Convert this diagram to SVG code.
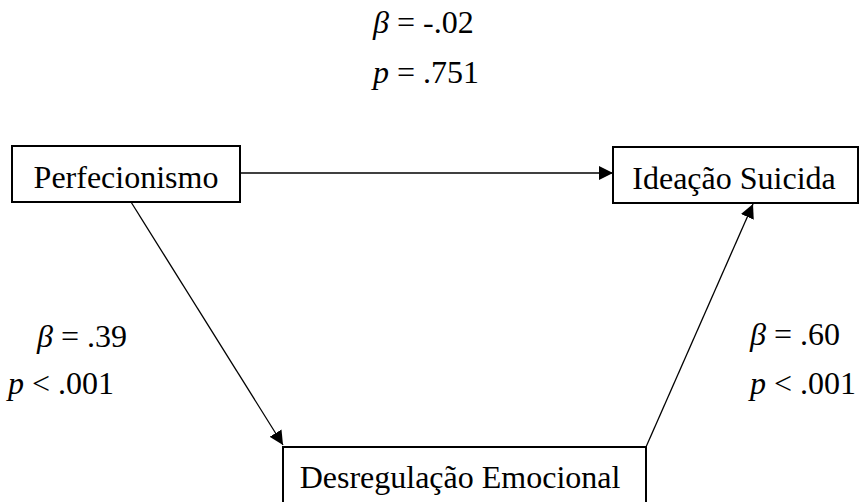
<svg xmlns="http://www.w3.org/2000/svg" width="860" height="502" viewBox="0 0 860 502">
<style>
.box{fill:#fff;stroke:#000;stroke-width:2}
.t{font-family:"Liberation Serif","Times New Roman",serif;font-size:32px;fill:#000}
.i{font-style:italic}
.c{stroke:#000;stroke-width:1.3;fill:none}
</style>
<defs>
<marker id="ah" viewBox="0 0 14 14" refX="14" refY="7" markerWidth="14" markerHeight="14" markerUnits="userSpaceOnUse" orient="auto">
<path d="M0,0 L14,7 L0,14 Z" fill="#000"/>
</marker>
</defs>
<g id="connectors">
<line class="c" x1="240" y1="173" x2="613" y2="173" marker-end="url(#ah)"/>
<line class="c" x1="131" y1="202" x2="283" y2="445" marker-end="url(#ah)"/>
<line class="c" x1="646" y1="447" x2="753" y2="204" marker-end="url(#ah)"/>
</g>
<g id="perfecionismo">
<rect class="box" x="12" y="146" width="228" height="56"/>
<text class="t" x="126" y="188" text-anchor="middle">Perfecionismo</text>
</g>
<g id="ideacao">
<rect class="box" x="613" y="147" width="245" height="56"/>
<text class="t" x="734" y="189" text-anchor="middle">Ideação Suicida</text>
</g>
<g id="desregulacao">
<rect class="box" x="283" y="447" width="363" height="60"/>
<text class="t" x="460" y="488" text-anchor="middle">Desregulação Emocional</text>
</g>
<g id="labels">
<text class="t" x="373" y="33"><tspan class="i">β</tspan> = -.02</text>
<text class="t" x="373" y="83"><tspan class="i">p</tspan> = .751</text>
<text class="t" x="37" y="347"><tspan class="i">β</tspan> = .39</text>
<text class="t" x="8" y="394"><tspan class="i">p</tspan> &lt; .001</text>
<text class="t" x="750" y="345"><tspan class="i">β</tspan> = .60</text>
<text class="t" x="750" y="394"><tspan class="i">p</tspan> &lt; .001</text>
</g>
</svg>
